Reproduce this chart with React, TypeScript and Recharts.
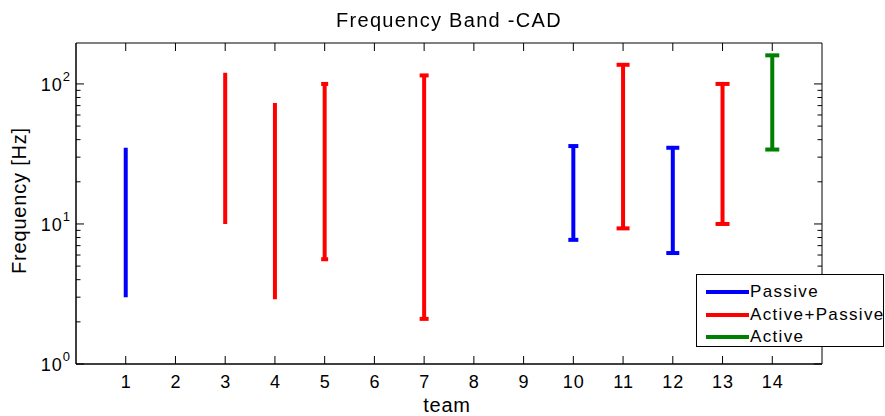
import React from 'react';
import { ComposedChart, Scatter, ErrorBar, XAxis, YAxis, ReferenceArea } from 'recharts';

// ---- data ----
const teams = [1, 3, 4, 5, 7, 10, 11, 12, 13, 14];
const lowHz = [3.0, 10, 2.9, 5.6, 2.1, 7.7, 9.3, 6.2, 10, 34];
const highHz = [35, 120, 73, 100, 115, 36, 137, 35, 100, 160];
const teamType = [
  'Passive', 'Active+Passive', 'Active+Passive', 'Active+Passive', 'Active+Passive',
  'Passive', 'Active+Passive', 'Passive', 'Active+Passive', 'Active',
];
const legendTypes = ['Passive', 'Active+Passive', 'Active'];
const xTicks = [1, 2, 3, 4, 5, 6, 7, 8, 9, 10, 11, 12, 13, 14];
const yMajorTicks = [1, 10, 100];
const yMinorTicks = [2, 3, 4, 5, 6, 7, 8, 9, 20, 30, 40, 50, 60, 70, 80, 90];
const xDomain = [0, 15];
const yDomain = [1, 196];

// ---- styles ----
const typeColor: Record<string, string> = {
  Passive: '#0000ff',
  'Active+Passive': '#ff0000',
  Active: '#008000',
};
const capHalfWidth: Record<number, number> = {
  1: 0, 3: 0, 4: 0, 5: 3.5, 7: 4.5, 10: 5, 11: 6.5, 12: 6.5, 13: 7, 14: 7,
};

const FONT = '"Liberation Sans", Arial, Helvetica, sans-serif';
const W = 885;
const H = 416;
const MARGIN = { top: 43, right: 63, bottom: 0, left: 0 };
const YAXIS_W = 76;
const XAXIS_H = 52;
const PLOT_TOP = MARGIN.top;
const PLOT_RIGHT = W - MARGIN.right;

const rows = teams.map((t, i) => ({
  team: t,
  high: highHz[i],
  span: [highHz[i] - lowHz[i], 0],
  type: teamType[i],
}));

const XTick = (p: any) => {
  const { x, y, payload } = p;
  return (
    <g>
      <line x1={x} x2={x} y1={y} y2={y - 8} stroke="#000" strokeWidth={1} />
      <line x1={x} x2={x} y1={PLOT_TOP} y2={PLOT_TOP + 8} stroke="#000" strokeWidth={1} />
      <text x={x + 0.5} y={y + 24} textAnchor="middle" fontFamily={FONT} fontSize={18} letterSpacing={1} fill="#000">
        {payload.value}
      </text>
    </g>
  );
};

const YTick = (p: any) => {
  const { x, y, payload } = p;
  const v = payload.value;
  const major = yMajorTicks.includes(v);
  const len = major ? 8 : 4.5;
  return (
    <g>
      <line x1={x} x2={x + len} y1={y} y2={y} stroke="#000" strokeWidth={1} />
      <line x1={PLOT_RIGHT - len} x2={PLOT_RIGHT} y1={y} y2={y} stroke="#000" strokeWidth={1} />
      {major && (
        <text x={x - 5} y={y + 7} textAnchor="end" fontFamily={FONT} fontSize={18} letterSpacing={1} fill="#000">
          10
          <tspan dy={-10} fontSize={13}>{Math.round(Math.log10(v))}</tspan>
        </text>
      )}
    </g>
  );
};

const XLabel = (p: any) => {
  const vb = p.viewBox;
  return (
    <text x={vb.x + vb.width / 2 - 2} y={vb.y + 48} textAnchor="middle" fontFamily={FONT} fontSize={20} letterSpacing={0.8} fill="#000">
      team
    </text>
  );
};

const YLabel = (p: any) => {
  const vb = p.viewBox;
  const cx = 26;
  const cy = vb.y + vb.height / 2 - 3;
  return (
    <text x={cx} y={cy} transform={`rotate(-90, ${cx}, ${cy})`} textAnchor="middle" fontFamily={FONT} fontSize={20} letterSpacing={0.8} fill="#000">
      Frequency [Hz]
    </text>
  );
};

export default function App() {
  return (
    <div style={{ position: 'fixed', left: 0, top: 0, width: W, height: H, fontFamily: FONT, background: '#fff' }}>
      <ComposedChart width={W} height={H} margin={MARGIN}>
        <XAxis
          xAxisId="b"
          dataKey="team"
          type="number"
          domain={xDomain}
          allowDataOverflow
          ticks={xTicks}
          interval={0}
          tickSize={0}
          tickMargin={0}
          tickLine={false}
          axisLine={{ stroke: '#000' }}
          height={XAXIS_H}
          tick={XTick}
          label={XLabel}
        />
        <YAxis
          yAxisId="l"
          dataKey="high"
          type="number"
          scale="log"
          domain={yDomain}
          allowDataOverflow
          ticks={[...yMajorTicks, ...yMinorTicks].sort((a, b) => a - b)}
          interval={0}
          tickSize={0}
          tickMargin={0}
          tickLine={false}
          axisLine={{ stroke: '#000' }}
          width={YAXIS_W}
          tick={YTick}
          label={YLabel}
        />
        <ReferenceArea
          xAxisId="b"
          yAxisId="l"
          x1={xDomain[0]}
          x2={xDomain[1]}
          y1={yDomain[0]}
          y2={yDomain[1]}
          fill="none"
          stroke="#000"
          strokeWidth={1}
          ifOverflow="visible"
        />
        {rows.map((r) => (
          <Scatter
            key={r.team}
            xAxisId="b"
            yAxisId="l"
            data={[r]}
            dataKey="high"
            isAnimationActive={false}
            shape={() => <g />}
            legendType="none"
          >
            <ErrorBar
              dataKey="span"
              direction="y"
              width={capHalfWidth[r.team]}
              stroke={typeColor[r.type]}
              strokeWidth={4}
              isAnimationActive={false}
            />
          </Scatter>
        ))}
      </ComposedChart>
      <div
        style={{
          position: 'absolute',
          left: 0,
          top: 10,
          width: 898,
          textAlign: 'center',
          fontSize: 20,
          lineHeight: '20px',
          letterSpacing: 1.3,
          color: '#000',
          whiteSpace: 'nowrap',
        }}
      >
        Frequency Band -CAD
      </div>
      <div
        style={{
          position: 'absolute',
          left: 696,
          top: 274,
          width: 188,
          height: 73,
          boxSizing: 'border-box',
          border: '1px solid #000',
          background: '#fff',
        }}
      >
        {legendTypes.map((t, i) => (
          <div
            key={t}
            style={{
              position: 'absolute',
              left: 9,
              top: 6 + i * 22.5,
              height: 22,
              display: 'flex',
              alignItems: 'center',
              whiteSpace: 'nowrap',
            }}
          >
            <div style={{ width: 43, height: 4, background: typeColor[t] }} />
            <span style={{ marginLeft: 1, fontSize: 17, letterSpacing: 1.35, lineHeight: '22px', color: '#000' }}>{t}</span>
          </div>
        ))}
      </div>
    </div>
  );
}
